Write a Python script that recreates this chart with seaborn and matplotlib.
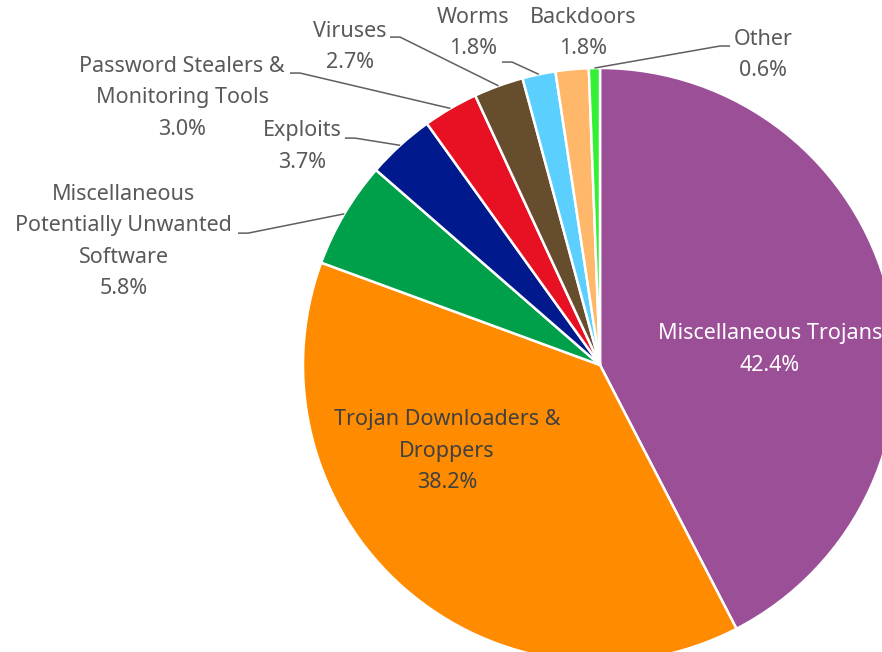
import matplotlib
matplotlib.use("Agg")
import matplotlib.pyplot as plt
import numpy as np
import seaborn as sns

# Share of detected threats by category (percent)
categories = [
    "Miscellaneous Trojans",
    "Trojan Downloaders &\nDroppers",
    "Miscellaneous\nPotentially Unwanted\nSoftware",
    "Exploits",
    "Password Stealers &\nMonitoring Tools",
    "Viruses",
    "Worms",
    "Backdoors",
    "Other",
]
shares = [42.4, 38.2, 5.8, 3.7, 3.0, 2.7, 1.8, 1.8, 0.6]
colors = ["#9B4F96", "#FF8C00", "#00A04A", "#001A8E", "#E81123",
          "#654D2D", "#5BD0FF", "#FFB76A", "#33F033"]

# Label layout in pie-radius units (pie centred at the origin, radius 1):
# text block centre, leader stub start, stub direction (None = no leader)
label_layout = {
    "Miscellaneous Trojans": dict(xy=(0.572, 0.052), inside=True, color="white"),
    "Trojan Downloaders &\nDroppers": dict(xy=(-0.515, -0.290), inside=True, color="#404040"),
    "Miscellaneous\nPotentially Unwanted\nSoftware": dict(xy=(-1.603, 0.416), stub=(-1.219, 0.444), sdir=1),
    "Exploits": dict(xy=(-1.003, 0.736), stub=(-0.859, 0.764), sdir=1),
    "Password Stealers &\nMonitoring Tools": dict(xy=(-1.407, 0.899), stub=(-1.044, 0.983), sdir=1),
    "Viruses": dict(xy=(-0.842, 1.071), stub=(-0.707, 1.104), sdir=1),
    "Worms": dict(xy=(-0.428, 1.118), stub=(-0.330, 1.020), sdir=1),
    "Backdoors": dict(xy=(-0.057, 1.118), stub=None),
    "Other": dict(xy=(0.549, 1.044), stub=(0.438, 1.074), sdir=-1),
}

sns.set_theme(style="white")
plt.rcParams["font.family"] = ["Noto Sans", "DejaVu Sans"]

W, H = 882, 652
R_PX, CX, CY = 297, 600, 365

fig = plt.figure(figsize=(W / 100, H / 100), dpi=100)
ax = fig.add_axes([0, 0, 1, 1])

palette = sns.color_palette(colors)
wedges, _ = ax.pie(
    shares, colors=palette, startangle=90, counterclock=False, radius=1.0,
    wedgeprops=dict(edgecolor="white", linewidth=1.8),
)
ax.set_xlim(-CX / R_PX, (W - CX) / R_PX)
ax.set_ylim((CY - H) / R_PX, CY / R_PX)
ax.axis("off")

FS = 15.5
LINE_STEP = 31.5 / R_PX  # vertical distance between label lines
LEADER = "#5f5f5f"


def draw_block(x, y, lines, color):
    """Draw a centred multi-line label, one text per line."""
    n = len(lines)
    for i, line in enumerate(lines):
        ly = y + ((n - 1) / 2 - i) * LINE_STEP
        ax.text(x, ly, line, ha="center", va="center", fontsize=FS, color=color)


cum = np.cumsum([0] + shares[:-1])
for cat, share, start in zip(categories, shares, cum):
    lay = label_layout[cat]
    lines = cat.split("\n") + [f"{share:.1f}%"]
    if lay.get("inside"):
        draw_block(*lay["xy"], lines, lay["color"])
        continue
    draw_block(*lay["xy"], lines, "#595959")
    if lay["stub"] is None:
        continue
    mid = np.deg2rad(90 - (start + share / 2) * 3.6)
    ex, ey = np.cos(mid) * 1.0, np.sin(mid) * 1.0
    sx, sy = lay["stub"]
    kx = sx + lay["sdir"] * 0.034
    ax.plot([sx, kx, ex], [sy, sy, ey], color=LEADER, lw=1.1, solid_capstyle="butt")

fig.savefig("out.png", dpi=100)
